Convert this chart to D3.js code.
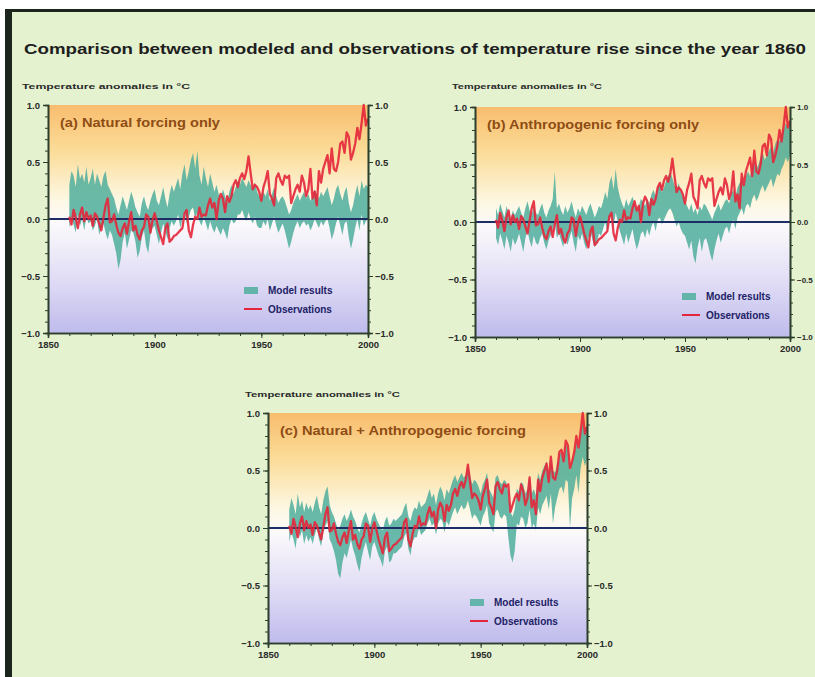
<!DOCTYPE html>
<html>
<head>
<meta charset="utf-8">
<script src="https://cdn.jsdelivr.net/npm/d3@7"></script>
<style>
  body { margin: 0; background: #fff; }
  svg { display: block; font-family: "Liberation Sans", Arial, sans-serif; }
</style>
</head>
<body>
<div id="chart"></div>
<script>
// years 1860..2000, one value per year
const years = d3.range(1860, 2001);
const xTicks = [1850, 1900, 1950, 2000];
const yTicks = [-1.0, -0.5, 0.0, 0.5, 1.0];

const observations = [
  0.02, -0.05, 0.08, 0.01, -0.08, 0.04, 0.10, -0.02, 0.06, 0.00,
  0.03, -0.06, 0.05, 0.02, -0.04, -0.10, 0.01, 0.12, 0.18, -0.03,
  -0.02, 0.04, -0.05, -0.12, -0.15, -0.08, -0.04, -0.13, -0.02, 0.06,
  -0.10, -0.06, -0.14, -0.18, -0.10, -0.07, 0.04, 0.02, -0.12, -0.01,
  0.05, -0.02, -0.10, -0.16, -0.22, -0.08, -0.04, -0.20, -0.18, -0.15,
  -0.14, -0.12, -0.10, -0.08, 0.05, 0.08, -0.10, -0.16, -0.05, 0.02,
  0.00, 0.10, 0.02, 0.04, 0.03, 0.12, 0.18, 0.10, 0.14, 0.00,
  0.16, 0.22, 0.18, 0.06, 0.20, 0.15, 0.20, 0.30, 0.34, 0.28,
  0.36, 0.40, 0.35, 0.42, 0.55, 0.40, 0.26, 0.30, 0.28, 0.24,
  0.16, 0.28, 0.34, 0.42, 0.22, 0.18, 0.12, 0.36, 0.40, 0.34,
  0.30, 0.38, 0.36, 0.38, 0.14, 0.20, 0.26, 0.30, 0.24, 0.38,
  0.32, 0.20, 0.26, 0.44, 0.18, 0.24, 0.12, 0.42, 0.32, 0.44,
  0.50, 0.56, 0.40, 0.62, 0.44, 0.42, 0.50, 0.66, 0.68, 0.58,
  0.76, 0.72, 0.52, 0.58, 0.66, 0.80, 0.70, 0.84, 1.00, 0.82,
  0.88
];

// (a) natural forcing only: model range
const naturalHi = [
  0.30, 0.42, 0.38, 0.28, 0.48, 0.35, 0.40, 0.32, 0.46, 0.30,
  0.36, 0.44, 0.30, 0.40, 0.34, 0.28, 0.38, 0.42, 0.30, 0.26,
  0.22, 0.18, 0.10, 0.04, 0.12, 0.20, 0.14, 0.08, 0.16, 0.24,
  0.18, 0.10, 0.06, 0.02, 0.14, 0.20, 0.12, 0.08, 0.16, 0.22,
  0.26, 0.16, 0.12, 0.20, 0.28, 0.18, 0.10, 0.22, 0.30, 0.24,
  0.30, 0.36, 0.26, 0.40, 0.48, 0.34, 0.42, 0.52, 0.58, 0.44,
  0.60, 0.38, 0.30, 0.46, 0.36, 0.28, 0.40, 0.32, 0.24, 0.30,
  0.22, 0.18, 0.26, 0.20, 0.14, 0.24, 0.30, 0.22, 0.28, 0.34,
  0.30, 0.36, 0.32, 0.28, 0.34, 0.30, 0.26, 0.32, 0.24, 0.20,
  0.18, 0.24, 0.20, 0.26, 0.16, 0.22, 0.28, 0.20, 0.14, 0.18,
  0.20, 0.16, 0.10, 0.04, 0.08, 0.14, 0.18, 0.22, 0.16, 0.20,
  0.24, 0.18, 0.22, 0.16, 0.20, 0.26, 0.22, 0.18, 0.24, 0.20,
  0.24, 0.28, 0.20, 0.12, 0.18, 0.26, 0.30, 0.22, 0.16, 0.24,
  0.28, 0.14, 0.06, 0.12, 0.22, 0.30, 0.20, 0.34, 0.26, 0.30,
  0.28
];
const naturalLo = [
  -0.08, 0.02, -0.05, -0.12, 0.04, -0.06, 0.00, -0.10, 0.02, -0.04,
  -0.02, -0.10, -0.06, 0.00, -0.14, -0.08, -0.04, -0.12, -0.18, -0.10,
  -0.14, -0.22, -0.30, -0.44, -0.36, -0.20, -0.12, -0.26, -0.18, -0.10,
  -0.12, -0.20, -0.34, -0.28, -0.16, -0.10, -0.24, -0.30, -0.14, -0.08,
  -0.06, -0.14, -0.22, -0.12, -0.04, -0.10, -0.18, -0.08, -0.02, -0.06,
  -0.02, 0.04, -0.08, 0.00, 0.06, -0.04, 0.02, 0.08, 0.10, 0.00,
  0.06, -0.02, -0.06, 0.02, -0.04, -0.10, -0.02, -0.08, -0.12, -0.06,
  -0.10, -0.14, -0.08, -0.12, -0.18, -0.06, 0.00, -0.04, -0.02, 0.04,
  0.04, 0.08, 0.02, -0.02, 0.06, 0.00, -0.04, 0.02, -0.06, -0.08,
  -0.08, -0.02, -0.06, 0.00, -0.10, -0.04, 0.02, -0.06, -0.12, -0.08,
  -0.04, -0.10, -0.18, -0.26, -0.20, -0.12, -0.06, -0.02, -0.08, -0.04,
  -0.02, -0.06, -0.04, -0.10, -0.06, 0.00, -0.04, -0.08, -0.02, -0.06,
  -0.02, 0.00, -0.08, -0.18, -0.12, -0.04, 0.02, -0.06, -0.14, -0.04,
  -0.02, -0.16, -0.26, -0.18, -0.08, 0.00, -0.10, 0.04, -0.06, -0.02,
  0.00
];

// (b) anthropogenic forcing only: model range
const anthroHi = [
  0.12, 0.06, 0.16, 0.10, 0.04, 0.14, 0.08, 0.02, 0.10, 0.06,
  0.10, 0.14, 0.08, 0.04, 0.12, 0.18, 0.10, 0.06, 0.14, 0.08,
  0.06, 0.12, 0.16, 0.08, 0.04, 0.10, 0.14, 0.20, 0.44, 0.12,
  0.16, 0.10, 0.06, 0.14, 0.08, 0.12, 0.18, 0.10, 0.04, 0.12,
  0.08, 0.14, 0.10, 0.06, 0.12, 0.16, 0.10, 0.04, 0.08, 0.14,
  0.12, 0.18, 0.26, 0.20, 0.34, 0.40, 0.28, 0.46, 0.30, 0.22,
  0.16, 0.12, 0.20, 0.14, 0.18, 0.22, 0.16, 0.10, 0.14, 0.20,
  0.18, 0.14, 0.20, 0.16, 0.24, 0.28, 0.22, 0.30, 0.34, 0.26,
  0.30, 0.36, 0.40, 0.44, 0.38, 0.32, 0.28, 0.34, 0.26, 0.22,
  0.18, 0.14, 0.10, 0.16, 0.08, 0.12, 0.06, 0.14, 0.10, 0.16,
  0.14, 0.10, 0.06, 0.02, 0.08, 0.12, 0.16, 0.10, 0.14, 0.18,
  0.20, 0.16, 0.24, 0.28, 0.22, 0.30, 0.34, 0.38, 0.32, 0.40,
  0.44, 0.40, 0.48, 0.52, 0.46, 0.50, 0.56, 0.60, 0.54, 0.58,
  0.62, 0.66, 0.60, 0.68, 0.72, 0.70, 0.76, 0.80, 0.86, 0.82,
  0.88
];
const anthroLo = [
  -0.14, -0.20, -0.10, -0.16, -0.24, -0.12, -0.18, -0.26, -0.14, -0.20,
  -0.16, -0.10, -0.18, -0.26, -0.14, -0.08, -0.16, -0.22, -0.12, -0.18,
  -0.20, -0.14, -0.10, -0.18, -0.24, -0.16, -0.12, -0.06, 0.00, -0.14,
  -0.10, -0.16, -0.22, -0.12, -0.20, -0.14, -0.08, -0.18, -0.26, -0.12,
  -0.16, -0.10, -0.18, -0.24, -0.14, -0.08, -0.16, -0.22, -0.18, -0.10,
  -0.12, -0.06, 0.00, -0.08, 0.02, 0.06, -0.04, 0.08, 0.00, -0.08,
  -0.14, -0.20, -0.10, -0.18, -0.12, -0.06, -0.16, -0.24, -0.18, -0.10,
  -0.08, -0.14, -0.06, -0.12, -0.04, 0.00, -0.08, 0.02, 0.04, -0.02,
  0.02, 0.06, 0.10, 0.12, 0.08, 0.02, -0.04, 0.00, -0.06, -0.10,
  -0.12, -0.18, -0.24, -0.16, -0.30, -0.36, -0.22, -0.14, -0.26, -0.16,
  -0.14, -0.20, -0.28, -0.34, -0.24, -0.16, -0.10, -0.18, -0.12, -0.06,
  -0.04, -0.10, -0.02, 0.02, -0.06, 0.04, 0.08, 0.12, 0.06, 0.14,
  0.16, 0.12, 0.20, 0.24, 0.18, 0.22, 0.28, 0.32, 0.26, 0.30,
  0.34, 0.38, 0.30, 0.36, 0.42, 0.40, 0.46, 0.50, 0.56, 0.52,
  0.58
];

// (c) natural + anthropogenic forcing: model range
const combinedHi = [
  0.16, 0.26, 0.20, 0.12, 0.30, 0.18, 0.24, 0.14, 0.22, 0.16,
  0.20, 0.14, 0.22, 0.28, 0.18, 0.12, 0.24, 0.32, 0.36, 0.20,
  0.14, 0.10, 0.04, -0.02, 0.02, 0.08, 0.12, 0.06, 0.10, 0.16,
  0.10, 0.06, 0.00, -0.04, 0.04, 0.10, 0.14, 0.08, 0.02, 0.10,
  0.14, 0.08, 0.04, 0.00, -0.02, 0.06, 0.10, 0.02, 0.04, 0.08,
  0.06, 0.08, 0.10, 0.12, 0.18, 0.22, 0.10, 0.06, 0.14, 0.18,
  0.16, 0.24, 0.18, 0.20, 0.22, 0.28, 0.34, 0.26, 0.30, 0.20,
  0.30, 0.36, 0.32, 0.24, 0.34, 0.30, 0.36, 0.42, 0.46, 0.40,
  0.44, 0.48, 0.44, 0.46, 0.54, 0.46, 0.38, 0.42, 0.40, 0.36,
  0.30, 0.38, 0.42, 0.48, 0.34, 0.30, 0.26, 0.44, 0.46, 0.40,
  0.38, 0.42, 0.40, 0.30, 0.14, 0.10, 0.16, 0.34, 0.32, 0.40,
  0.38, 0.30, 0.34, 0.46, 0.30, 0.34, 0.28, 0.48, 0.42, 0.50,
  0.54, 0.58, 0.46, 0.60, 0.50, 0.48, 0.56, 0.64, 0.66, 0.60,
  0.72, 0.70, 0.50, 0.58, 0.64, 0.76, 0.68, 0.82, 0.92, 0.84,
  0.90
];
const combinedLo = [
  -0.12, -0.04, -0.10, -0.18, 0.00, -0.08, -0.02, -0.14, -0.06, -0.12,
  -0.08, -0.14, -0.06, 0.00, -0.10, -0.16, -0.04, 0.02, 0.06, -0.10,
  -0.14, -0.20, -0.28, -0.40, -0.44, -0.30, -0.22, -0.26, -0.18, -0.10,
  -0.18, -0.24, -0.32, -0.38, -0.26, -0.18, -0.12, -0.20, -0.28, -0.16,
  -0.12, -0.18, -0.24, -0.28, -0.34, -0.20, -0.16, -0.30, -0.28, -0.22,
  -0.22, -0.20, -0.18, -0.16, -0.08, -0.04, -0.18, -0.24, -0.12, -0.08,
  -0.08, 0.00, -0.06, -0.04, -0.02, 0.04, 0.08, 0.02, 0.04, -0.06,
  0.04, 0.08, 0.06, -0.04, 0.06, 0.02, 0.08, 0.14, 0.18, 0.12,
  0.16, 0.20, 0.16, 0.18, 0.24, 0.16, 0.08, 0.12, 0.10, 0.06,
  0.02, 0.10, 0.14, 0.20, 0.04, 0.00, -0.04, 0.14, 0.16, 0.10,
  0.08, 0.12, 0.10, -0.08, -0.24, -0.30, -0.20, 0.04, 0.02, 0.10,
  0.08, 0.00, 0.04, 0.16, 0.00, 0.04, -0.02, 0.18, 0.12, 0.20,
  0.24, 0.28, 0.16, 0.30, 0.04, 0.18, 0.26, 0.34, 0.36, 0.30,
  0.42, 0.40, 0.00, 0.26, 0.34, 0.46, 0.30, 0.52, 0.62, 0.54,
  0.60
];

const W = 815, H = 677;
const svg = d3.select("#chart").append("svg")
    .attr("width", W)
    .attr("height", H);

// page background + dark frame
svg.append("rect").attr("x", 5).attr("y", 10).attr("width", W - 5).attr("height", H - 10).attr("fill", "#e4f2d0");
svg.append("rect").attr("x", 5).attr("y", 9).attr("width", W - 5).attr("height", 3).attr("fill", "#1c261c");
svg.append("rect").attr("x", 5).attr("y", 9).attr("width", 7).attr("height", H - 9).attr("fill", "#1c261c");

let defs = svg.append("defs");
let grad = defs.append("linearGradient")
    .attr("id", "bg")
    .attr("x1", 0).attr("y1", 0).attr("x2", 0).attr("y2", 1);
[["0%", "#f8bd6e"], ["20%", "#fbdc98"], ["42%", "#fdf8e4"], ["52%", "#fbf9fb"], ["75%", "#e2def6"], ["100%", "#bfbbec"]]
    .forEach(s => grad.append("stop").attr("offset", s[0]).attr("stop-color", s[1]));

svg.append("text")
    .attr("x", 24).attr("y", 54)
    .attr("font-size", 15)
    .attr("font-weight", "bold")
    .attr("fill", "#1e1e1e")
    .attr("textLength", 782)
    .attr("lengthAdjust", "spacingAndGlyphs")
    .text("Comparison between modeled and observations of temperature rise since the year 1860");

const panels = [
    {x: 48, y: 105, w: 320, h: 228, hi: naturalHi, lo: naturalLo,
     title: "(a) Natural forcing only", titleW: 160,
     ylab: {x: 22, y: 89, w: 168}, legend: {x: 244, y: 292}, rightFont: 9.5},
    {x: 475, y: 107, w: 315, h: 230, hi: anthroHi, lo: anthroLo,
     title: "(b) Anthropogenic forcing only", titleW: 212,
     ylab: {x: 452, y: 89, w: 150}, legend: {x: 682, y: 298}, rightFont: 8},
    {x: 268, y: 413, w: 319, h: 230, hi: combinedHi, lo: combinedLo,
     title: "(c) Natural + Anthropogenic forcing", titleW: 246,
     ylab: {x: 245, y: 397, w: 155}, legend: {x: 470, y: 604}, rightFont: 9.5}
];

panels.forEach(p => {
    let g = svg.append("g").attr("transform", `translate(${p.x},${p.y})`);
    let x = d3.scaleLinear().domain([1850, 2000]).range([0, p.w]);
    let y = d3.scaleLinear().domain([-1, 1]).range([p.h, 0]);

    g.append("rect").attr("width", p.w).attr("height", p.h).attr("fill", "url(#bg)");

    svg.append("text")
        .attr("x", p.ylab.x).attr("y", p.ylab.y)
        .attr("font-size", 8).attr("font-weight", "bold").attr("fill", "#2a2a2a")
        .attr("textLength", p.ylab.w).attr("lengthAdjust", "spacingAndGlyphs")
        .text("Temperature anomalies in °C");

    g.append("text")
        .attr("x", 12).attr("y", 22)
        .attr("font-size", 12).attr("font-weight", "bold").attr("fill", "#8e4c14")
        .attr("textLength", p.titleW).attr("lengthAdjust", "spacingAndGlyphs")
        .text(p.title);

    let area = d3.area()
        .x((d, i) => x(years[i]))
        .y0((d, i) => y(p.lo[i]))
        .y1((d, i) => y(p.hi[i]));
    g.append("path")
        .datum(p.hi)
        .attr("d", area)
        .attr("fill", "#4fae9c")
        .attr("fill-opacity", 0.85);

    g.append("line")
        .attr("x1", 0).attr("x2", p.w)
        .attr("y1", y(0)).attr("y2", y(0))
        .attr("stroke", "#1d2d66").attr("stroke-width", 2);

    let line = d3.line()
        .x((d, i) => x(years[i]))
        .y(d => y(d));
    g.append("path")
        .datum(observations)
        .attr("d", line)
        .attr("fill", "none")
        .attr("stroke", "#e4263a")
        .attr("stroke-width", 2.3)
        .attr("stroke-linejoin", "round")
        .attr("stroke-opacity", 0.9);

    // axes
    let minorY = d3.range(-10, 11).map(v => v / 10);
    g.append("g").call(d3.axisLeft(y).tickValues(minorY).tickSize(3).tickFormat(""));
    g.append("g").call(d3.axisLeft(y).tickValues(yTicks).tickSize(5).tickFormat(d3.format(".1f")));
    g.append("g").attr("transform", `translate(${p.w},0)`)
        .call(d3.axisRight(y).tickValues(minorY).tickSize(3).tickFormat(""));
    let right = g.append("g").attr("transform", `translate(${p.w},0)`)
        .call(d3.axisRight(y).tickValues(yTicks).tickSize(5).tickPadding(2).tickFormat(d3.format(".1f")));
    g.append("g").attr("transform", `translate(0,${p.h})`)
        .call(d3.axisBottom(x).tickValues(d3.range(1850, 2001, 10)).tickSize(3).tickFormat(""));
    g.append("g").attr("transform", `translate(0,${p.h})`)
        .call(d3.axisBottom(x).tickValues(xTicks).tickSize(5).tickFormat(d3.format("d")));

    g.selectAll(".domain").attr("stroke", "#2c3f2c").attr("stroke-width", 1.6);
    g.selectAll(".tick line").attr("stroke", "#2c3f2c");
    g.selectAll(".tick text").attr("font-size", 9.5).attr("font-weight", "bold").attr("fill", "#2a2a2a")
        .attr("font-family", "Liberation Sans, Arial, sans-serif");
    right.selectAll(".tick text").attr("font-size", p.rightFont);

    // legend
    let lg = svg.append("g").attr("transform", `translate(${p.legend.x},${p.legend.y})`);
    lg.append("rect").attr("x", 0).attr("y", -5).attr("width", 14).attr("height", 7)
        .attr("fill", "#4fae9c").attr("fill-opacity", 0.85);
    lg.append("text").attr("x", 24).attr("y", 2).attr("font-size", 10).attr("font-weight", "bold").attr("fill", "#222266")
        .text("Model results");
    lg.append("line").attr("x1", 0).attr("x2", 18).attr("y1", 17).attr("y2", 17)
        .attr("stroke", "#e4263a").attr("stroke-width", 2);
    lg.append("text").attr("x", 24).attr("y", 21).attr("font-size", 10).attr("font-weight", "bold").attr("fill", "#222266")
        .text("Observations");
});
</script>
</body>
</html>
